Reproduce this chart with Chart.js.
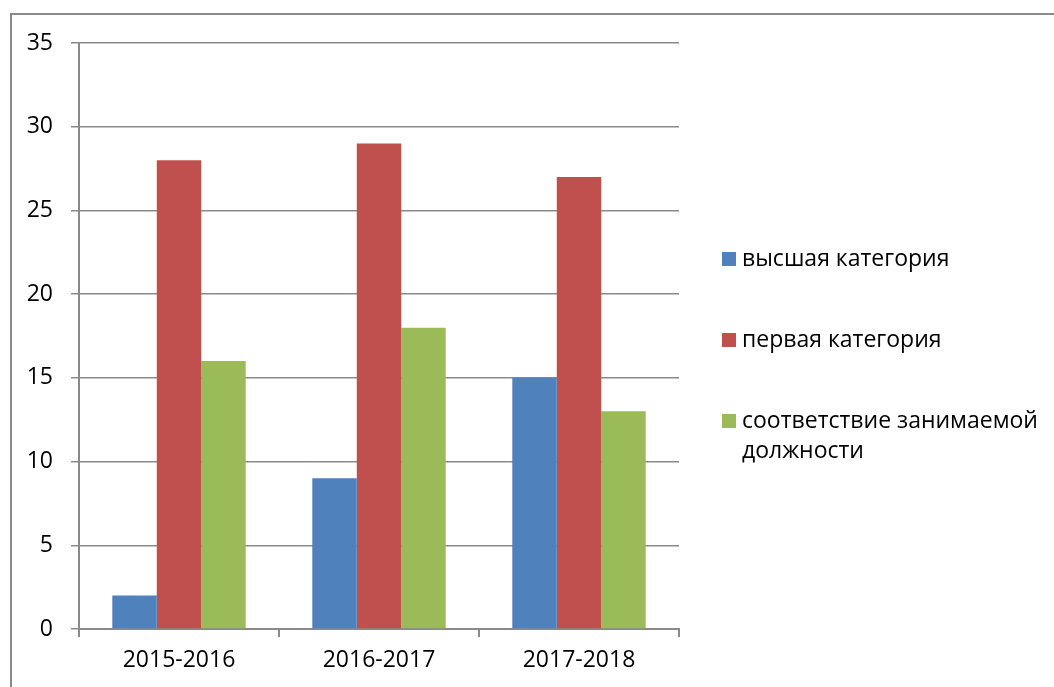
<!DOCTYPE html>
<html><head><meta charset="utf-8">
<script src="https://cdn.jsdelivr.net/npm/chart.js@4/dist/chart.umd.min.js"></script>
<style>html,body{margin:0;padding:0;background:#fff}#wrap{width:1054px;height:687px;position:relative}</style>
</head><body><div id="wrap"><canvas id="c" width="1054" height="687"></canvas></div>
<script>
const categories = ["2015-2016", "2016-2017", "2017-2018"];
const seriesNames = ["высшая категория", "первая категория", ["соответствие занимаемой", "должности"]];
const highest = [2, 9, 15];
const first = [28, 29, 27];
const conformity = [16, 18, 13];
const yTicks = [0, 5, 10, 15, 20, 25, 30, 35];
const colors = ["#4F81BD", "#C0504D", "#9BBB59"];
const FONT = "'Open Sans', sans-serif";

const frame = {
  id: 'frame',
  afterDraw(chart) {
    const ctx = chart.ctx;
    ctx.save();
    ctx.strokeStyle = '#8a8a8a';
    ctx.lineWidth = 2;
    ctx.beginPath();
    ctx.moveTo(11, 687); ctx.lineTo(11, 14); ctx.lineTo(1054, 14);
    ctx.stroke();
    ctx.restore();
  }
};
const legendPlugin = {
  id: 'customLegend',
  afterDraw(chart) {
    const ctx = chart.ctx;
    ctx.save();
    ctx.font = "23px " + FONT;
    ctx.textBaseline = 'middle';
    ctx.fillStyle = '#000';
    const ys = [259, 340, 421];
    chart.data.datasets.forEach((ds, i) => {
      ctx.fillStyle = ds.backgroundColor;
      ctx.fillRect(722, ys[i] - 7, 14, 14);
      ctx.fillStyle = '#000';
      const lines = Array.isArray(ds.label) ? ds.label : [ds.label];
      lines.forEach((l, j) => ctx.fillText(l, 742, ys[i] + j * 30));
    });
    ctx.restore();
  }
};

new Chart(document.getElementById('c'), {
  type: 'bar',
  data: {
    labels: categories,
    datasets: [
      { label: seriesNames[0], data: highest, backgroundColor: colors[0] },
      { label: seriesNames[1], data: first, backgroundColor: colors[1] },
      { label: seriesNames[2], data: conformity, backgroundColor: colors[2] }
    ]
  },
  options: {
    responsive: false,
    animation: false,
    layout: { padding: { left: 0, right: 375, top: 43, bottom: 0 } },
    datasets: { bar: { categoryPercentage: 0.667, barPercentage: 1.0, borderWidth: 0 } },
    plugins: { legend: { display: false }, tooltip: { enabled: false } },
    scales: {
      x: {
        grid: { offset: true, drawOnChartArea: false, drawTicks: true, tickLength: 8, color: '#8a8a8a', lineWidth: 2 },
        border: { display: true, color: '#8a8a8a', width: 2 },
        ticks: { color: '#000', font: { family: FONT, size: 23 }, padding: 10 },
        afterFit(s) { s.height = 58; }
      },
      y: {
        min: 0, max: 35,
        afterBuildTicks(s) { s.ticks = yTicks.map(v => ({ value: v })); },
        grid: { color: '#8a8a8a', lineWidth: 1.5, tickLength: 8 },
        border: { display: true, color: '#8a8a8a', width: 2 },
        ticks: { color: '#000', font: { family: FONT, size: 23 }, padding: 18 },
        afterFit(s) { s.width = 79; }
      }
    }
  },
  plugins: [frame, legendPlugin]
});
</script></body></html>
